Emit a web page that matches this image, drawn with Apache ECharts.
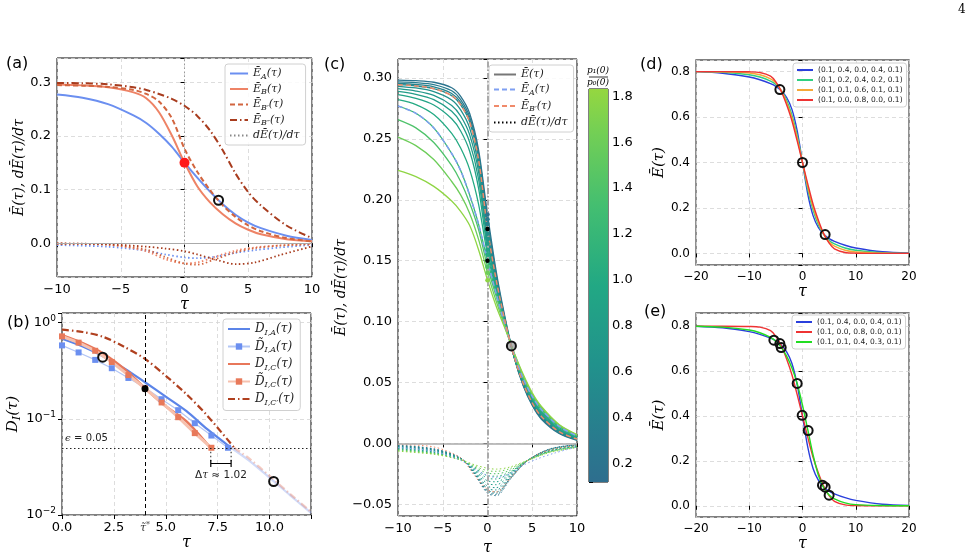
<!DOCTYPE html>
<html>
<head>
<meta charset="utf-8">
<script src="https://cdn.jsdelivr.net/npm/echarts@6/dist/echarts.min.js"></script>
<style>
  html, body { margin: 0; padding: 0; background: #fff; }
  #chart { width: 976px; height: 553px; }
</style>
</head>
<body>
<div id="chart"></div>
<script>
// ---------- (a) mean energy of the A/B protocols ----------
const aTau = [-10, -8, -6, -4, -3, -2, -1, 0, 1, 2, 3, 4, 5, 6, 8, 10];
const aEA = [0.2770, 0.2710, 0.2590, 0.2380, 0.2240, 0.2040, 0.1800, 0.1500, 0.1220, 0.0960, 0.0725, 0.0530, 0.0385, 0.0280, 0.0140, 0.0060];
const aEB = [0.2955, 0.2940, 0.2905, 0.2810, 0.2700, 0.2440, 0.2010, 0.1500, 0.1060, 0.0760, 0.0540, 0.0370, 0.0250, 0.0165, 0.0075, 0.0035];
const aEBp = [0.2945, 0.2935, 0.2912, 0.2855, 0.2780, 0.2640, 0.2330, 0.1760, 0.1330, 0.0990, 0.0705, 0.0490, 0.0332, 0.0222, 0.0095, 0.0035];
const aEBpp = [0.2985, 0.2980, 0.2960, 0.2905, 0.2855, 0.2780, 0.2690, 0.2560, 0.2370, 0.2100, 0.1730, 0.1300, 0.0950, 0.0700, 0.0330, 0.0095];
const aTauD = [-10, -6, -3, -1.5, 0, 1, 2.5, 4, 5.5, 7.5, 10];
const aDEA = [-0.0035, -0.0065, -0.0140, -0.0210, -0.0265, -0.0280, -0.0250, -0.0180, -0.0130, -0.0080, -0.0030];
const aDEB = [-0.0008, -0.0025, -0.0150, -0.0300, -0.0375, -0.0360, -0.0245, -0.0140, -0.0080, -0.0040, -0.0015];
const aDEBp = [-0.0010, -0.0030, -0.0120, -0.0260, -0.0380, -0.0400, -0.0290, -0.0170, -0.0095, -0.0045, -0.0018];
const aDEBpp = [-0.0005, -0.0020, -0.0065, -0.0100, -0.0150, -0.0210, -0.0310, -0.0390, -0.0360, -0.0220, -0.0060];
const aRedDot = [0, 0.15];
const aRing = [2.67, 0.08];

// ---------- (b) distinguishability, log scale ----------
const bTauA = [0, 1, 2, 3, 4, 5, 6, 7, 8.15];
const bDA = [0.68, 0.565, 0.445, 0.335, 0.24, 0.17, 0.12, 0.078, 0.05];
const bTauAfade = [8.15, 9, 10, 11, 12];
const bDAfade = [0.05, 0.037, 0.0245, 0.016, 0.0105];
const bTauTA = [0, 0.8, 1.6, 2.4, 3.2, 4.0, 4.8, 5.6, 6.4, 7.2, 8.0];
const bDTA = [0.58, 0.49, 0.41, 0.336, 0.266, 0.21, 0.16, 0.123, 0.09, 0.067, 0.05];
const bTauC = [0, 1, 2, 3, 4, 5, 6, 7.15];
const bDC = [0.74, 0.61, 0.475, 0.33, 0.208, 0.135, 0.094, 0.05];
const bTauTC = [0, 0.8, 1.6, 2.4, 3.2, 4.0, 4.8, 5.6, 6.4, 7.2];
const bDTC = [0.72, 0.62, 0.51, 0.39, 0.285, 0.208, 0.148, 0.104, 0.071, 0.05];
const bTauCp = [0, 1, 2, 3, 4, 5, 6, 7, 8.3];
const bDCp = [0.845, 0.80, 0.71, 0.56, 0.42, 0.28, 0.18, 0.108, 0.05];
const bTauCpFade = [8.3, 9, 10, 11, 12];
const bDCpFade = [0.05, 0.039, 0.0255, 0.0165, 0.0108];
const bEps = 0.05;
const bTauStar = 4.0;
const bDelta = [7.17, 8.15];
const bBracketY = 0.0343;
const bDeltaText = [7.66, 0.0262];
const bBlackDot = [4.0, 0.205];
const bRings = [[1.96, 0.438], [10.2, 0.0223]];

// ---------- (c) family over p1(0)/p0(0) ----------
const cTau = aTau;
const cRatio = [0.2, 0.3, 0.4, 0.5, 0.6, 0.7, 0.8, 0.9, 1.0, 1.2, 1.4, 1.6, 1.8];
const cE = [
  [0.2983, 0.2978, 0.2965, 0.2920, 0.2850, 0.2710, 0.2410, 0.1880, 0.1400, 0.1020, 0.0700, 0.0470, 0.0310, 0.0200, 0.0080, 0.0025],
  [0.2968, 0.2962, 0.2946, 0.2895, 0.2823, 0.2683, 0.2383, 0.1840, 0.1375, 0.1008, 0.0702, 0.0477, 0.0317, 0.0207, 0.0085, 0.0028],
  [0.2955, 0.2947, 0.2928, 0.2873, 0.2800, 0.2660, 0.2355, 0.1800, 0.1352, 0.0998, 0.0703, 0.0483, 0.0325, 0.0215, 0.0090, 0.0032],
  aEBp,
  [0.2932, 0.2918, 0.2888, 0.2820, 0.2738, 0.2590, 0.2280, 0.1720, 0.1315, 0.0985, 0.0707, 0.0496, 0.0340, 0.0230, 0.0101, 0.0039],
  [0.2912, 0.2893, 0.2857, 0.2775, 0.2688, 0.2535, 0.2230, 0.1680, 0.1300, 0.0980, 0.0710, 0.0502, 0.0347, 0.0238, 0.0107, 0.0042],
  [0.2890, 0.2866, 0.2822, 0.2727, 0.2633, 0.2473, 0.2170, 0.1640, 0.1285, 0.0975, 0.0713, 0.0508, 0.0354, 0.0246, 0.0113, 0.0046],
  [0.2863, 0.2832, 0.2778, 0.2665, 0.2565, 0.2400, 0.2095, 0.1590, 0.1265, 0.0970, 0.0716, 0.0514, 0.0362, 0.0255, 0.0120, 0.0050],
  [0.2822, 0.2782, 0.2700, 0.2545, 0.2425, 0.2250, 0.1965, 0.1550, 0.1245, 0.0965, 0.0720, 0.0522, 0.0372, 0.0266, 0.0130, 0.0055],
  aEA,
  [0.2658, 0.2590, 0.2470, 0.2280, 0.2150, 0.1975, 0.1755, 0.1450, 0.1200, 0.0955, 0.0730, 0.0540, 0.0395, 0.0290, 0.0145, 0.0064],
  [0.2515, 0.2445, 0.2330, 0.2150, 0.2040, 0.1890, 0.1675, 0.1400, 0.1160, 0.0945, 0.0735, 0.0553, 0.0405, 0.0298, 0.0150, 0.0068],
  [0.2241, 0.2190, 0.2110, 0.1990, 0.1905, 0.1790, 0.1590, 0.1340, 0.1120, 0.0935, 0.0740, 0.0565, 0.0415, 0.0305, 0.0155, 0.0072]
];
const cTauD = [-10, -6, -3, -1.5, 0, 1, 2.5, 4.5, 7, 10];
const cDE = [
  [-0.0015, -0.0045, -0.0120, -0.0250, -0.0410, -0.0430, -0.0300, -0.0140, -0.0045, -0.0010],
  [-0.0018, -0.0048, -0.0121, -0.0247, -0.0402, -0.0420, -0.0295, -0.0140, -0.0047, -0.0012],
  [-0.0022, -0.0052, -0.0123, -0.0244, -0.0394, -0.0410, -0.0290, -0.0140, -0.0048, -0.0013],
  [-0.0025, -0.0055, -0.0125, -0.0240, -0.0385, -0.0400, -0.0285, -0.0140, -0.0050, -0.0015],
  [-0.0029, -0.0059, -0.0126, -0.0235, -0.0370, -0.0383, -0.0278, -0.0140, -0.0052, -0.0017],
  [-0.0033, -0.0063, -0.0127, -0.0229, -0.0352, -0.0364, -0.0270, -0.0140, -0.0055, -0.0019],
  [-0.0038, -0.0067, -0.0129, -0.0222, -0.0330, -0.0340, -0.0261, -0.0140, -0.0058, -0.0021],
  [-0.0042, -0.0071, -0.0131, -0.0214, -0.0308, -0.0316, -0.0252, -0.0140, -0.0060, -0.0023],
  [-0.0046, -0.0076, -0.0133, -0.0207, -0.0286, -0.0293, -0.0243, -0.0140, -0.0063, -0.0025],
  [-0.0050, -0.0080, -0.0135, -0.0200, -0.0265, -0.0270, -0.0235, -0.0140, -0.0065, -0.0027],
  [-0.0055, -0.0083, -0.0134, -0.0193, -0.0245, -0.0250, -0.0222, -0.0140, -0.0068, -0.0030],
  [-0.0060, -0.0087, -0.0135, -0.0185, -0.0225, -0.0230, -0.0208, -0.0140, -0.0071, -0.0032],
  [-0.0065, -0.0090, -0.0135, -0.0175, -0.0205, -0.0212, -0.0195, -0.0140, -0.0075, -0.0035]
];
const cRing = [2.67, 0.08];
const cbRange = [0.118, 1.832];

// ---------- (d) and (e) ----------
const dTau = [-20, -15, -10, -8, -6, -5, -4, -3, -2, -1, 0, 1, 2, 3, 4, 5, 6, 8, 10, 15, 20];
const dBlue = [0.800, 0.793, 0.776, 0.764, 0.747, 0.735, 0.716, 0.687, 0.635, 0.540, 0.400, 0.260, 0.165, 0.113, 0.084, 0.065, 0.053, 0.036, 0.024, 0.007, 0.002];
const dGreen = [0.800, 0.797, 0.786, 0.776, 0.758, 0.743, 0.717, 0.675, 0.610, 0.520, 0.400, 0.280, 0.190, 0.125, 0.083, 0.057, 0.042, 0.024, 0.014, 0.003, 0.000];
const dOrange = [0.800, 0.799, 0.794, 0.786, 0.768, 0.750, 0.716, 0.665, 0.598, 0.508, 0.400, 0.292, 0.202, 0.135, 0.084, 0.050, 0.032, 0.014, 0.006, 0.001, 0.000];
const dRed = [0.800, 0.800, 0.799, 0.796, 0.780, 0.755, 0.714, 0.655, 0.585, 0.495, 0.400, 0.305, 0.215, 0.145, 0.086, 0.045, 0.020, 0.004, 0.001, 0.000, 0.000];
const dLabels = ['(0.1, 0.4, 0.0, 0.4, 0.1)', '(0.1, 0.2, 0.4, 0.2, 0.1)', '(0.1, 0.1, 0.6, 0.1, 0.1)', '(0.1, 0.0, 0.8, 0.0, 0.1)'];
const dRings = [[-4.25, 0.721], [0, 0.400], [4.25, 0.083]];
const eTau = dTau;
const eGreen = [0.800, 0.796, 0.783, 0.771, 0.750, 0.733, 0.706, 0.668, 0.615, 0.545, 0.448, 0.338, 0.225, 0.135, 0.080, 0.048, 0.031, 0.013, 0.005, 0.001, 0.000];
const eLabels = ['(0.1, 0.4, 0.0, 0.4, 0.1)', '(0.1, 0.0, 0.8, 0.0, 0.1)', '(0.1, 0.1, 0.4, 0.3, 0.1)'];
const eRings = [[-5.375, 0.738], [-4.25, 0.723], [-4.0, 0.705], [-1.0, 0.545], [-0.06, 0.403], [1.06, 0.335], [3.75, 0.092], [4.25, 0.083], [5.0, 0.047]];

// ---------- styles ----------
const DOT = [1.5, 2.5], DASH = [5, 3], DASHDOT = [7, 3, 1.5, 3];
const SERIF = 'DejaVu Serif', SANS = 'DejaVu Sans';
const VIR = ['#440154', '#482475', '#414487', '#355f8d', '#2a788e', '#21918c', '#22a884', '#44bf70', '#7ad151', '#bddf26', '#fde725'];
const NOFILL = 'rgba(0,0,0,0)';

function viridis(t) {
  const p = Math.max(0, Math.min(1, t)) * 10, i = Math.min(9, Math.floor(p)), f = p - i;
  const a = VIR[i], b = VIR[i + 1];
  const ch = k => Math.round(parseInt(a.substr(k, 2), 16) * (1 - f) + parseInt(b.substr(k, 2), 16) * f);
  return 'rgb(' + ch(1) + ',' + ch(3) + ',' + ch(5) + ')';
}
const ratioColor = r => viridis(0.36 + (r - cbRange[0]) / (cbRange[1] - cbRange[0]) * 0.48);

const mathRich = (size, col) => ({
  m: { fontFamily: SERIF, fontStyle: 'italic', fontSize: size, color: col },
  s: { fontFamily: SERIF, fontStyle: 'italic', fontSize: Math.round(size * 0.7), padding: [Math.round(size * 0.55), 0, 0, 0], color: col },
  p: { fontFamily: SERIF, fontSize: Math.round(size * 0.7), padding: [0, 0, Math.round(size * 0.55), 0], color: col },
  r: { fontFamily: SANS, fontSize: size, color: col }
});

const legendText = {
  aEA: '{m|Ē}{s|A}{m|(τ)}', aEB: '{m|Ē}{s|B}{m|(τ)}', aEBp: '{m|Ē}{s|B′}{m|(τ)}',
  aEBpp: '{m|Ē}{s|B″}{m|(τ)}', adE: '{m|dĒ(τ)/dτ}',
  bDA: '{m|D}{s|I,A}{m|(τ)}', bDTA: '{m|D̃}{s|I,A}{m|(τ)}', bDC: '{m|D}{s|I,C}{m|(τ)}',
  bDTC: '{m|D̃}{s|I,C}{m|(τ)}', bDCp: '{m|D}{s|I,C′}{m|(τ)}',
  cE: '{m|Ē(τ)}', cEA: '{m|Ē}{s|A}{m|(τ)}', cEBp: '{m|Ē}{s|B′}{m|(τ)}', cdE: '{m|dĒ(τ)/dτ}',
  d0: dLabels[0], d1: dLabels[1], d2: dLabels[2], d3: dLabels[3],
  e0: eLabels[0], e1: eLabels[1], e2: eLabels[2]
};

const pairs = (xs, ys) => xs.map((x, i) => [x, ys[i]]);

function line(name, g, xs, ys, color, width, dash, extra) {
  return Object.assign({
    name: name, type: 'line', xAxisIndex: g, yAxisIndex: g,
    data: pairs(xs, ys), showSymbol: false, symbol: 'none', smooth: 0.3,
    lineStyle: { color: color, width: width, type: dash || 'solid' },
    itemStyle: { color: color }, silent: true, z: 2, emphasis: { disabled: true }
  }, extra || {});
}

function dots(g, data, size, fill, border, z) {
  return {
    type: 'scatter', xAxisIndex: g, yAxisIndex: g, data: data, symbolSize: size, silent: true,
    itemStyle: { color: fill, borderColor: border || fill, borderWidth: border ? 2 : 0, opacity: 1 },
    z: z || 6, emphasis: { disabled: true }
  };
}

function tickFmt(step, dec) {
  return v => {
    if (Math.abs(v) < 1e-9) v = 0;
    const k = v / step;
    return Math.abs(k - Math.round(k)) < 1e-6 ? v.toFixed(dec).replace('-', '−') : '';
  };
}

function xAxisDef(g, min, max, interval, dec, fs, gap) {
  return {
    type: 'value', gridIndex: g, min: min, max: max, interval: interval,
    axisLine: { show: false },
    axisTick: { show: true, length: 4, lineStyle: { color: '#000' } },
    axisLabel: { color: '#000', fontFamily: SANS, fontSize: fs, margin: 6, formatter: tickFmt(interval, dec) },
    splitLine: { show: true, lineStyle: { color: '#d4d4d4', type: [4, 3], width: 0.8 } },
    name: 'τ', nameLocation: 'middle', nameGap: gap,
    nameTextStyle: { fontFamily: SERIF, fontStyle: 'italic', fontSize: 16, color: '#000' }
  };
}
function yAxisDef(g, min, max, split, step, dec, fs, name, gap, nsize) {
  return {
    type: 'value', gridIndex: g, min: min, max: max, splitNumber: split,
    axisLine: { show: false },
    axisTick: { show: true, length: 4, lineStyle: { color: '#000' } },
    axisLabel: { color: '#000', fontFamily: SANS, fontSize: fs, margin: 6, formatter: tickFmt(step, dec) },
    splitLine: { show: true, lineStyle: { color: '#d4d4d4', type: [4, 3], width: 0.8 } },
    name: name, nameLocation: 'middle', nameGap: gap, nameRotate: 90,
    nameTextStyle: { rich: mathRich(nsize, '#000') }
  };
}

const frame = (left, top, width, height, col, w) => ({
  left: left, top: top, width: width, height: height, show: true, containLabel: false,
  outerBoundsMode: 'none', borderColor: col, borderWidth: w, backgroundColor: 'transparent'
});

// legend icons: line only (symbol hidden), unless an entry sets its own marker colour
function legendDef(names, left, top, fs, gap, iw, extra) {
  return Object.assign({
    data: names, left: left, top: top, orient: 'vertical', selectedMode: false,
    itemWidth: iw, itemHeight: 8, itemGap: gap, padding: [4, 6, 4, 4],
    backgroundColor: 'rgba(255,255,255,0.85)', borderColor: '#d0d0d0', borderWidth: 1, borderRadius: 3,
    itemStyle: { color: NOFILL, borderColor: NOFILL, borderWidth: 0 },
    formatter: n => legendText[n],
    textStyle: { fontSize: fs, color: '#222', fontFamily: SERIF, rich: mathRich(fs, '#222') }
  }, extra || {});
}

// ---------- series ----------
const series = [];

// (a)
series.push(line('aEA', 0, aTau, aEA, '#6b8ff0', 2, 'solid', {
  markLine: {
    silent: true, symbol: 'none', animation: false, label: { show: false },
    data: [
      { xAxis: 0, lineStyle: { color: '#999', type: DOT, width: 1 } },
      { yAxis: 0, lineStyle: { color: '#aaa', type: 'solid', width: 1 } }
    ]
  }
}));
series.push(line('aEB', 0, aTau, aEB, '#ee8366', 2));
series.push(line('aEBp', 0, aTau, aEBp, '#d2653f', 2, DASH));
series.push(line('aEBpp', 0, aTau, aEBpp, '#a83c1e', 2, DASHDOT));
series.push(line('adE', 0, [], [], '#888', 1.5, DOT));
series.push(line('a_dEA', 0, aTauD, aDEA, '#6b8ff0', 1.8, DOT));
series.push(line('a_dEB', 0, aTauD, aDEB, '#ee8366', 1.8, DOT));
series.push(line('a_dEBp', 0, aTauD, aDEBp, '#d2653f', 1.8, DOT));
series.push(line('a_dEBpp', 0, aTauD, aDEBpp, '#a83c1e', 1.8, DOT));
series.push(dots(0, [aRedDot], 10, '#ff1a1a'));
series.push(dots(0, [aRing], 9, NOFILL, '#111'));

// (b)
series.push(line('bDA', 1, bTauA, bDA, '#5b84e8', 2.2, 'solid', {
  markLine: {
    silent: true, symbol: 'none', animation: false, label: { show: false },
    data: [
      { xAxis: bTauStar, lineStyle: { color: '#000', type: [4, 3], width: 1 },
        label: { show: true, position: 'start', distance: 6, formatter: '{m|τ̃}{p|*}', rich: mathRich(11, '#333') } },
      { yAxis: bEps, lineStyle: { color: '#222', type: DOT, width: 1 },
        label: { show: true, position: 'insideStartTop', distance: 3, formatter: '{m|ϵ} {r|=} {r|0.05}', rich: mathRich(10, '#222') } }
    ]
  }
}));
series.push(line('bDAfade', 1, bTauAfade, bDAfade, 'rgba(120,150,235,0.35)', 2.2));
series.push(line('bDTA', 1, bTauTA, bDTA, '#b3c6f5', 1.2, 'solid', {
  showSymbol: true, symbol: 'rect', symbolSize: 6, smooth: false, itemStyle: { color: '#6b8ff0' }, z: 3
}));
series.push(line('bDC', 1, bTauC, bDC, '#e8775a', 2.6));
series.push(line('bDTC', 1, bTauTC, bDTC, '#f6c1ae', 3, 'solid', {
  showSymbol: true, symbol: 'rect', symbolSize: 6, smooth: false, itemStyle: { color: '#e8795a' }, z: 3
}));
series.push(line('bDCp', 1, bTauCp, bDCp, '#b0401f', 2.2, DASHDOT));
series.push(line('bDCpFade', 1, bTauCpFade, bDCpFade, 'rgba(230,140,120,0.45)', 2.2, DASHDOT));
series.push(line('bBr1', 1, [bDelta[0], bDelta[0]], [bEps, bBracketY], '#222', 1, DOT, { smooth: false }));
series.push(line('bBr2', 1, [bDelta[1], bDelta[1]], [bEps, bBracketY], '#222', 1, DOT, { smooth: false }));
series.push(line('bBr3', 1, bDelta, [bBracketY, bBracketY], '#000', 1.2, 'solid', {
  smooth: false, showSymbol: true, symbol: 'rect', symbolSize: [1.2, 7], itemStyle: { color: '#000' }
}));
series.push(Object.assign(dots(1, [bDeltaText], 1, NOFILL), {
  label: { show: true, position: 'inside', formatter: '{r|Δ}{m|τ} {r|≈ 1.02}', rich: mathRich(10.5, '#222') }
}));
series.push(dots(1, [bBlackDot], 7, '#000'));
series.push(dots(1, bRings, 9, NOFILL, '#111'));

// (c)
cE.forEach((row, k) => series.push(line('c' + k, 2, cTau, row, ratioColor(cRatio[k]), 1.3)));
cDE.forEach((row, k) => series.push(line('cd' + k, 2, cTauD, row, ratioColor(cRatio[k]), 1, DOT)));
series.push(line('cEA', 2, aTau, aEA, '#7f9ff2', 1.5, DASH, { z: 4,
  markLine: {
    silent: true, symbol: 'none', animation: false, label: { show: false },
    data: [
      { xAxis: 0, lineStyle: { color: '#aaa', type: [6, 2, 1.5, 2], width: 2 } },
      { yAxis: 0, lineStyle: { color: '#aaa', type: 'solid', width: 1.5 } }
    ]
  }
}));
series.push(line('cEBp', 2, aTau, aEBp, '#f08a6a', 1.5, DASH, { z: 4 }));
series.push(line('c_dEA', 2, aTauD, aDEA, '#7f9ff2', 1, DOT, { z: 4 }));
series.push(line('c_dEBp', 2, aTauD, aDEBp, '#f08a6a', 1, DOT, { z: 4 }));
series.push(line('cE', 2, [], [], '#777', 2.5));
series.push(line('cdE', 2, [], [], '#000', 1, DOT));
series.push(dots(2, cE.map((row, k) => ({ value: [0, row[7]], itemStyle: { color: ratioColor(cRatio[k]) } })), 4.5, '#555'));
series.push(dots(2, [[0, aEA[7]], [0, aEBp[7]]], 4.5, '#000', null, 7));
series.push(dots(2, [cRing], 9, 'rgba(150,150,150,0.7)', '#111'));
// colorbar
series.push({
  type: 'custom', xAxisIndex: 5, yAxisIndex: 5, silent: true, z: 1,
  data: [[0, cbRange[0], cbRange[1]]],
  renderItem: (params, api) => {
    const top = api.coord([0, api.value(2)]);
    const bot = api.coord([1, api.value(1)]);
    const stops = [];
    for (let i = 0; i <= 10; i++) stops.push({ offset: i / 10, color: viridis(0.36 + i / 10 * 0.48) });
    return {
      type: 'rect',
      shape: { x: top[0], y: top[1], width: bot[0] - top[0], height: bot[1] - top[1] },
      style: { fill: new echarts.graphic.LinearGradient(0, 1, 0, 0, stops) }
    };
  }
});

// (d)
const dCols = ['#2a3fdc', '#2fd080', '#f5a838', '#ee3333'];
[dBlue, dGreen, dOrange, dRed].forEach((ys, k) => series.push(line('d' + k, 3, dTau, ys, dCols[k], 1.4)));
series.push(dots(3, dRings, 9, NOFILL, '#111'));

// (e)
const eCols = ['#2a3fdc', '#ee3333', '#22dd22'];
[dBlue, dRed, eGreen].forEach((ys, k) => series.push(line('e' + k, 4, eTau, ys, eCols[k], 1.4)));
series.push(dots(4, eRings, 9, NOFILL, '#111'));

// ---------- option ----------
const option = {
  animation: false,
  backgroundColor: '#fff',
  grid: [
    frame(57, 58, 255, 219, '#000', 1),
    frame(62, 313, 249, 202, '#000', 1),
    frame(398, 59, 179, 457, '#000', 1),
    frame(696, 60, 213, 205, '#555', 1.3),
    frame(696, 313, 213, 204, '#555', 1.3),
    frame(589, 89, 19, 393, '#000', 1)
  ],
  xAxis: [
    xAxisDef(0, -10, 10, 5, 0, 13, 12),
    xAxisDef(1, 0, 12, 2.5, 1, 13, 14),
    xAxisDef(2, -10, 10, 5, 0, 13, 16),
    xAxisDef(3, -20, 20, 10, 0, 12, 16),
    xAxisDef(4, -20, 20, 10, 0, 12, 16),
    { type: 'value', gridIndex: 5, min: 0, max: 1, show: false }
  ],
  yAxis: [
    yAxisDef(0, -0.063, 0.345, 4, 0.1, 1, 13, '{m|Ē(τ), dĒ(τ)/dτ}', 27, 14),
    {
      type: 'log', logBase: 10, gridIndex: 1, min: 0.01, max: 1.26,
      axisLine: { show: false },
      axisTick: { show: true, length: 4, lineStyle: { color: '#000' } },
      axisLabel: {
        color: '#000', margin: 6,
        formatter: v => {
          const l = Math.log10(v), e = Math.round(l);
          if (Math.abs(l - e) > 1e-6) return '';
          return '{b|10}{u|' + String(e).replace('-', '−') + '}';
        },
        rich: {
          b: { fontFamily: SANS, fontSize: 13, color: '#000' },
          u: { fontFamily: SANS, fontSize: 9, color: '#000', padding: [0, 0, 8, 0] }
        }
      },
      splitLine: { show: true, lineStyle: { color: '#d4d4d4', type: [4, 3], width: 0.8 } },
      name: '{m|D}{s|I}{m|(τ)}', nameLocation: 'middle', nameGap: 36, nameRotate: 90,
      nameTextStyle: { rich: mathRich(15, '#000') }
    },
    yAxisDef(2, -0.0597, 0.3156, 7, 0.05, 2, 13, '{m|Ē(τ), dĒ(τ)/dτ}', 43, 14),
    yAxisDef(3, -0.051, 0.851, 4, 0.2, 1, 12, '{m|Ē(τ)}', 27, 15),
    yAxisDef(4, -0.05, 0.859, 4, 0.2, 1, 12, '{m|Ē(τ)}', 27, 15),
    {
      type: 'value', gridIndex: 5, min: cbRange[0], max: cbRange[1], splitNumber: 8, position: 'right',
      axisLine: { show: false }, splitLine: { show: false },
      axisTick: { show: true, length: 4, lineStyle: { color: '#000' } },
      axisLabel: { color: '#000', fontFamily: SANS, fontSize: 13, margin: 4, formatter: tickFmt(0.2, 1) }
    }
  ],
  legend: [
    legendDef(['aEA', 'aEB', 'aEBp', 'aEBpp', 'adE'], 225, 64, 11, 3, 18),
    legendDef(['bDA', { name: 'bDTA', itemStyle: { color: '#6b8ff0' } }, 'bDC',
      { name: 'bDTC', itemStyle: { color: '#e8795a' } }, 'bDCp'], 223, 319, 12, 4, 22),
    legendDef(['cE', 'cEA', 'cEBp', 'cdE'], 489, 65, 11, 4, 22),
    legendDef(['d0', 'd1', 'd2', 'd3'], 793, 63, 7.5, 2, 16,
      { textStyle: { fontSize: 7.5, color: '#222', fontFamily: SANS }, itemHeight: 6, padding: [3, 4, 3, 3] }),
    legendDef(['e0', 'e1', 'e2'], 792, 315, 7.5, 2, 16,
      { textStyle: { fontSize: 7.5, color: '#222', fontFamily: SANS }, itemHeight: 6, padding: [3, 4, 3, 3] })
  ],
  graphic: [
    { type: 'text', x: 6, y: 56, style: { text: '(a)', fontFamily: SANS, fontSize: 16, fill: '#000' } },
    { type: 'text', x: 7, y: 315, style: { text: '(b)', fontFamily: SANS, fontSize: 16, fill: '#000' } },
    { type: 'text', x: 324, y: 57, style: { text: '(c)', fontFamily: SANS, fontSize: 16, fill: '#000' } },
    { type: 'text', x: 640, y: 57, style: { text: '(d)', fontFamily: SANS, fontSize: 16, fill: '#000' } },
    { type: 'text', x: 644, y: 304, style: { text: '(e)', fontFamily: SANS, fontSize: 16, fill: '#000' } },
    { type: 'text', x: 958, y: 4, style: { text: '4', fontFamily: SERIF, fontSize: 12, fill: '#000' } },
    { type: 'text', x: 598, y: 66, style: { text: 'p₁(0)', fontFamily: SERIF, fontStyle: 'italic', fontSize: 9, fill: '#000', align: 'center' } },
    { type: 'line', shape: { x1: 589, y1: 77, x2: 608, y2: 77 }, style: { stroke: '#000', lineWidth: 0.8 } },
    { type: 'text', x: 598, y: 78, style: { text: 'p₀(0)', fontFamily: SERIF, fontStyle: 'italic', fontSize: 9, fill: '#000', align: 'center' } }
  ],
  series: series
};

const chart = echarts.init(document.getElementById('chart'));
chart.setOption(option);
</script>
</body>
</html>
